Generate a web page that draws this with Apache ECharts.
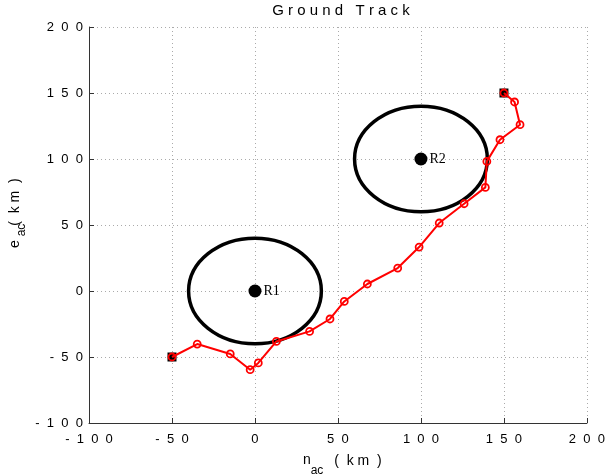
<!DOCTYPE html>
<html><head><meta charset="utf-8">
<script src="https://cdn.jsdelivr.net/npm/echarts@6/dist/echarts.min.js"></script>
<style>html,body{margin:0;padding:0;background:#fff}#c{width:608px;height:476px}</style>
</head><body><div id="c"></div>
<script>
// Ground track (km)
const trackX = [-50, -34.8, -14.9, -2.9, 2.0, 12.9, 32.9, 45.2, 53.8, 67.7, 86.0, 98.9, 111.0, 126.0, 138.8, 139.7, 147.6, 159.7, 156.4, 150];
const trackY = [-50, -40.2, -47.7, -59.6, -54.5, -38.2, -30.6, -21.2, -7.9, 5.3, 17.4, 33.3, 51.5, 66.1, 78.5, 98.2, 114.6, 126.0, 143.2, 150];
// start / end markers
const endX = [-50, 150];
const endY = [-50, 150];
// regions
const regionNames = ['R1', 'R2'];
const regionX = [0, 100];
const regionY = [0, 100];
const regionR = [40, 40];
// axes
const xMin = -100, xMax = 200, xStep = 50;
const yMin = -100, yMax = 200, yStep = 50;

const spaced = v => String(v).split('').join('  ');
const FONT = 'Liberation Sans';

const chart = echarts.init(document.getElementById('c'), null, {renderer: 'canvas'});
const axisCommon = {
  type: 'value',
  axisLine: {show: true, onZero: false, lineStyle: {color: '#333', width: 1}},
  axisTick: {show: true, inside: true, length: 5, lineStyle: {color: '#333'}},
  splitLine: {show: true, lineStyle: {color: '#aaa', type: [1, 3], width: 1}},
  axisLabel: {color: '#000', fontSize: 13, fontFamily: FONT, formatter: spaced}
};
chart.setOption({
  animation: false,
  backgroundColor: '#fff',
  grid: {left: 89, right: 17, top: 27, bottom: 53, containLabel: false},
  xAxis: Object.assign({}, axisCommon, {min: xMin, max: xMax, interval: xStep,
    axisLabel: Object.assign({}, axisCommon.axisLabel, {margin: 10})}),
  yAxis: Object.assign({}, axisCommon, {min: yMin, max: yMax, interval: yStep,
    axisLabel: Object.assign({}, axisCommon.axisLabel, {margin: 6})}),
  graphic: [
    {type: 'text', x: 341, y: 11, style: {text: 'G r o u n d   T r a c k', fontSize: 15, fontFamily: FONT, fill: '#000', align: 'center', verticalAlign: 'middle'}},
    {type: 'text', x: 307, y: 460, style: {text: 'n', fontSize: 14, fontFamily: FONT, fill: '#000', align: 'center', verticalAlign: 'middle'}},
    {type: 'text', x: 317, y: 471, style: {text: 'ac', fontSize: 12, fontFamily: FONT, fill: '#000', align: 'center', verticalAlign: 'middle'}},
    {type: 'text', x: 358, y: 461, style: {text: '(  k m  )', fontSize: 14, fontFamily: FONT, fill: '#000', align: 'center', verticalAlign: 'middle'}},
    {type: 'text', x: 15, y: 244, rotation: Math.PI / 2, style: {text: 'e', fontSize: 14, fontFamily: FONT, fill: '#000', align: 'center', verticalAlign: 'middle'}},
    {type: 'text', x: 22, y: 230, rotation: Math.PI / 2, style: {text: 'ac', fontSize: 12, fontFamily: FONT, fill: '#000', align: 'center', verticalAlign: 'middle'}},
    {type: 'text', x: 15, y: 202, rotation: Math.PI / 2, style: {text: '(  k m  )', fontSize: 14, fontFamily: FONT, fill: '#000', align: 'center', verticalAlign: 'middle'}}
  ],
  series: [
    {
      type: 'custom',
      data: regionX.map((x, i) => [x, regionY[i], regionR[i]]),
      renderItem: (params, api) => {
        const c = api.coord([api.value(0), api.value(1)]);
        const r = api.value(2);
        const s = api.size([r, r]);
        return {type: 'ellipse', shape: {cx: c[0], cy: c[1], rx: s[0], ry: s[1]},
          style: {fill: 'none', stroke: '#000', lineWidth: 3.5}};
      },
      z: 2
    },
    {
      type: 'scatter',
      data: regionX.map((x, i) => [x, regionY[i], regionNames[i]]),
      symbol: 'circle', symbolSize: 13,
      itemStyle: {color: '#000', opacity: 1},
      label: {show: true, position: 'right', distance: 2, formatter: p => p.value[2],
        fontFamily: 'Liberation Serif', fontSize: 14, color: '#000'},
      z: 3
    },
    {
      type: 'scatter',
      data: endX.map((x, i) => [x, endY[i]]),
      symbol: 'rect', symbolSize: 9,
      itemStyle: {color: '#000', opacity: 1},
      z: 4
    },
    {
      type: 'line',
      data: trackX.map((x, i) => [x, trackY[i]]),
      lineStyle: {color: '#f00', width: 2},
      symbol: 'circle', symbolSize: 7,
      itemStyle: {color: 'rgba(255,0,0,0)', borderColor: '#f00', borderWidth: 1.8},
      z: 5
    }
  ]
});
</script></body></html>
